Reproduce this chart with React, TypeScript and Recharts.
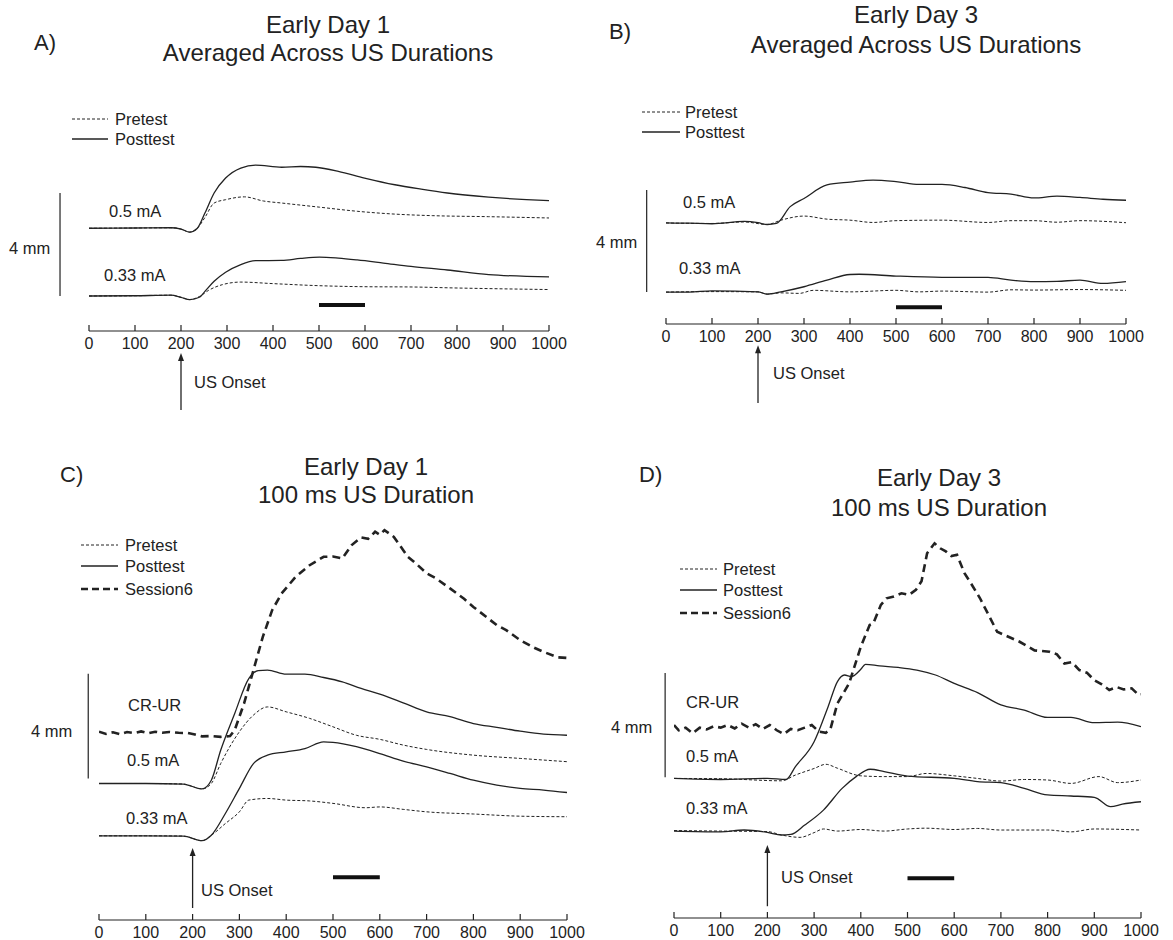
import { LineChart, Line, XAxis, YAxis, ReferenceLine } from "recharts";

type Pt = [number, number];

// all traces in mm, 0 = 0.33 mA baseline, x in ms
const TICKS = [0, 100, 200, 300, 400, 500, 600, 700, 800, 900, 1000];

// A) Early Day 1, averaged across US durations
const aPre05: Pt[] = [[0,2.63],[100,2.64],[178,2.65],[200,2.6],[219,2.48],[235,2.62],[252,3.05],[272,3.61],[297,3.74],[338,3.85],[379,3.69],[419,3.61],[501,3.45],[583,3.29],[665,3.18],[746,3.12],[869,3.08],[1000,3.03]];
const aPost05: Pt[] = [[0,2.63],[100,2.64],[178,2.65],[200,2.6],[219,2.48],[235,2.62],[252,3.22],[272,4.0],[297,4.58],[330,4.97],[362,5.08],[419,5.0],[460,5.03],[493,5.0],[542,4.84],[599,4.58],[665,4.32],[722,4.15],[779,4.0],[869,3.84],[951,3.74],[1000,3.7]];
const aPre033: Pt[] = [[0,0],[100,0.01],[178,0.03],[200,-0.05],[219,-0.14],[240,-0.02],[260,0.22],[290,0.44],[330,0.54],[400,0.48],[500,0.4],[600,0.36],[700,0.35],[800,0.31],[1000,0.25]];
const aPost033: Pt[] = [[0,0],[100,0.01],[178,0.03],[200,-0.05],[219,-0.14],[240,-0.05],[252,0.18],[272,0.57],[297,0.92],[330,1.22],[362,1.37],[419,1.38],[460,1.46],[501,1.51],[542,1.47],[583,1.4],[640,1.28],[700,1.15],[779,1.01],[869,0.83],[951,0.76],[1000,0.74]];

// B) Early Day 3, averaged across US durations
const bPre05: Pt[] = [[0,2.71],[100,2.69],[170,2.75],[220,2.65],[250,2.82],[300,2.98],[350,2.86],[400,2.82],[450,2.73],[500,2.8],[600,2.82],[700,2.73],[750,2.8],[800,2.8],[850,2.74],[900,2.8],[1000,2.72]];
const bPost05: Pt[] = [[0,2.71],[50,2.7],[100,2.68],[170,2.77],[200,2.72],[220,2.65],[240,2.69],[270,3.35],[300,3.67],[350,4.2],[400,4.31],[450,4.39],[500,4.33],[550,4.22],[600,4.22],[650,4.1],[700,3.9],[750,3.84],[800,3.69],[850,3.76],[900,3.71],[950,3.64],[1000,3.6]];
const bPre033: Pt[] = [[0,0],[100,0.02],[200,0.01],[220,-0.08],[250,-0.03],[290,-0.05],[320,0.07],[400,0.01],[500,0.07],[550,0.01],[600,0.04],[700,0],[750,0.09],[800,0.08],[900,0.1],[1000,0.07]];
const bPost033: Pt[] = [[0,0],[50,0],[100,0.05],[200,0.01],[220,-0.08],[250,0.01],[300,0.21],[350,0.47],[400,0.69],[420,0.7],[500,0.63],[600,0.58],[700,0.58],[750,0.47],[800,0.41],[850,0.42],[900,0.47],[950,0.34],[1000,0.41]];

// C) Early Day 1, 100 ms US duration
const cPre05: Pt[] = [[0,1.92],[100,1.92],[180,1.9],[220,1.72],[240,1.92],[260,2.65],[300,3.82],[330,4.43],[360,4.73],[400,4.55],[450,4.31],[500,4.0],[550,3.69],[600,3.54],[650,3.33],[700,3.17],[800,2.96],[900,2.84],[1000,2.72]];
const cPost05: Pt[] = [[0,1.92],[100,1.92],[180,1.9],[220,1.72],[240,2.04],[260,3.14],[290,4.49],[320,5.77],[340,6.06],[360,6.08],[400,5.93],[440,5.93],[480,5.81],[520,5.65],[560,5.41],[600,5.2],[650,4.88],[700,4.55],[750,4.37],[800,4.12],[850,3.98],[900,3.84],[950,3.73],[1000,3.69]];
const cPre033: Pt[] = [[0,0],[100,0],[180,-0.01],[220,-0.18],[240,0.02],[270,0.45],[300,0.88],[320,1.31],[360,1.37],[400,1.31],[450,1.28],[500,1.19],[570,1.03],[600,1.06],[650,0.97],[700,0.88],[800,0.8],[900,0.72],[1000,0.7]];
const cPost033: Pt[] = [[0,0],[100,0],[180,-0.01],[220,-0.18],[240,0.02],[270,0.82],[300,1.74],[330,2.65],[360,2.96],[400,3.08],[440,3.2],[480,3.45],[500,3.43],[550,3.27],[600,3.02],[650,2.74],[700,2.53],[750,2.29],[800,2.04],[850,1.86],[900,1.74],[950,1.68],[1000,1.59]];
const cSession6: Pt[] = [[0,3.82],[15,3.74],[30,3.8],[45,3.73],[60,3.81],[75,3.77],[90,3.83],[105,3.76],[120,3.82],[135,3.78],[150,3.81],[170,3.78],[190,3.77],[205,3.72],[220,3.65],[240,3.66],[260,3.63],[280,3.66],[290,3.88],[310,4.86],[330,6.08],[350,7.3],[370,8.28],[390,8.89],[420,9.5],[450,9.93],[480,10.24],[500,10.25],[520,10.18],[540,10.67],[560,10.95],[575,10.9],[590,11.16],[600,11.05],[610,11.22],[630,10.97],[660,10.24],[680,9.95],[700,9.63],[720,9.45],[750,9.08],[780,8.7],[800,8.4],[830,8.0],[850,7.73],[870,7.55],[900,7.18],[930,6.9],[950,6.75],[980,6.55],[1000,6.53]];

// D) Early Day 3, 100 ms US duration
const dPre05: Pt[] = [[0,2.01],[100,2.0],[230,1.92],[260,2.14],[300,2.39],[325,2.55],[350,2.4],[400,2.11],[450,2.08],[500,2.08],[540,2.2],[600,2.11],[650,2.01],[700,1.91],[750,1.97],[800,1.95],[850,1.82],[910,2.08],[950,1.85],[1000,1.95]];
const dPost05: Pt[] = [[0,2.01],[100,1.97],[200,2.01],[240,1.97],[260,2.46],[300,3.41],[330,4.75],[350,5.71],[365,5.96],[380,5.9],[400,6.18],[410,6.37],[440,6.31],[480,6.25],[520,6.15],[560,5.96],[600,5.64],[650,5.29],[700,4.82],[750,4.62],[800,4.34],[850,4.34],[900,4.14],[950,4.16],[1000,3.99]];
const dPre033: Pt[] = [[0,0.02],[100,0],[200,-0.02],[230,-0.15],[270,-0.24],[300,-0.06],[320,0.08],[350,0],[400,0.06],[450,0],[500,0.08],[540,0.11],[600,0.06],[650,0.1],[700,0.04],[800,0.04],[850,-0.03],[900,0.08],[1000,0.04]];
const dPost033: Pt[] = [[0,0],[100,-0.03],[150,0.04],[200,-0.05],[230,-0.15],[250,-0.13],[280,0.23],[320,0.8],[360,1.63],[390,2.08],[420,2.36],[450,2.27],[500,2.1],[600,2.01],[650,1.89],[700,1.85],[750,1.63],[800,1.38],[850,1.34],[900,1.29],[935,0.93],[960,1.03],[1000,1.12]];
const dSession6: Pt[] = [[0,4.05],[10,3.85],[25,3.95],[40,3.73],[55,3.95],[70,3.88],[85,4.0],[100,3.95],[115,4.05],[130,3.92],[145,4.1],[160,3.95],[175,4.08],[190,3.9],[205,4.05],[220,3.85],[235,3.7],[250,3.9],[265,3.85],[280,3.95],[295,4.05],[310,3.8],[325,3.75],[335,3.9],[350,4.88],[375,5.64],[400,7.04],[419,7.87],[427,7.94],[443,8.64],[455,8.89],[471,8.96],[487,9.08],[503,9.02],[518,9.21],[530,9.54],[542,10.61],[558,10.99],[570,10.8],[582,10.68],[594,10.5],[606,10.55],[622,9.85],[638,9.4],[655,8.9],[670,8.38],[692,7.61],[716,7.42],[740,7.23],[772,6.9],[804,6.85],[820,6.75],[836,6.4],[852,6.45],[868,6.15],[884,6.05],[900,5.76],[916,5.6],[932,5.39],[948,5.5],[963,5.41],[980,5.45],[995,5.2],[1000,5.22]];

const FONT = '"Liberation Sans", Arial, Helvetica, sans-serif';
const INK = "#222";

type Kind = "pre" | "post" | "s6";
const STYLE: Record<Kind, { w: number; dash?: string; type: "monotone" | "linear" }> = {
  pre: { w: 1, dash: "3 2", type: "monotone" },
  post: { w: 1.3, type: "monotone" },
  s6: { w: 2.6, dash: "8 5", type: "linear" },
};

const rows = (pts: Pt[]) => pts.map(([t, v]) => ({ t, v }));

const Tick = (p: any) => (
  <g>
    <line x1={p.x} x2={p.x} y1={p.y} y2={p.y - 6} stroke={INK} strokeWidth={1.2} />
    <text x={p.x} y={p.y + 18} textAnchor="middle" fontSize={16} fill={INK} fontFamily={FONT}>
      {p.payload.value}
    </text>
  </g>
);

const Arrow = (p: any) => {
  const top = Math.min(p.y1, p.y2);
  const bot = Math.max(p.y1, p.y2);
  const x = p.x1;
  return (
    <g>
      <line x1={x} x2={x} y1={bot} y2={top + 6} stroke={INK} strokeWidth={1.3} />
      <path d={`M${x},${top} L${x - 3},${top + 8} L${x + 3},${top + 8} Z`} fill={INK} />
    </g>
  );
};

interface PanelProps {
  box: [number, number, number, number];
  x0: number;
  x1: number;
  plotTop: number;
  axisY: number;
  domain: [number, number];
  lines: { pts: Pt[]; kind: Kind }[];
  scale: [number, number, number]; // x, from, to
  barY: number;
  arrow: [number, number];
}

function Panel({ box, x0, x1, plotTop, axisY, domain, lines, scale, barY, arrow }: PanelProps) {
  const [L, T, W, H] = box;
  return (
    <div style={{ position: "absolute", left: L, top: T }}>
      <LineChart
        width={W}
        height={H}
        margin={{ top: plotTop - T, left: x0 - L, right: L + W - x1, bottom: 0 }}
      >
        <XAxis
          type="number"
          dataKey="t"
          domain={[0, 1000]}
          ticks={TICKS}
          interval={0}
          height={T + H - axisY}
          axisLine={{ stroke: INK, strokeWidth: 1.2 }}
          tickLine={false}
          tickSize={0}
          tickMargin={0}
          tick={<Tick />}
          allowDataOverflow
        />
        <YAxis hide type="number" domain={domain} allowDataOverflow />
        {lines.map((l, i) => (
          <Line
            key={i}
            data={rows(l.pts)}
            dataKey="v"
            type={STYLE[l.kind].type}
            stroke={INK}
            strokeWidth={STYLE[l.kind].w}
            strokeDasharray={STYLE[l.kind].dash}
            dot={false}
            activeDot={false}
            isAnimationActive={false}
          />
        ))}
        <ReferenceLine
          segment={[{ x: 500, y: barY }, { x: 600, y: barY }]}
          stroke="#111"
          strokeWidth={4}
          ifOverflow="visible"
        />
        <ReferenceLine
          segment={[{ x: scale[0], y: scale[1] }, { x: scale[0], y: scale[2] }]}
          stroke={INK}
          strokeWidth={1.2}
          ifOverflow="visible"
        />
        <ReferenceLine
          segment={[{ x: 200, y: arrow[0] }, { x: 200, y: arrow[1] }]}
          shape={Arrow}
          ifOverflow="visible"
        />
      </LineChart>
    </div>
  );
}

const Txt = ({ x, y, s = 16.5, center = false, children }: any) => (
  <div
    style={{
      position: "absolute",
      left: x,
      top: y,
      transform: center ? "translate(-50%, -50%)" : "translateY(-50%)",
      fontSize: s,
      fontFamily: FONT,
      color: INK,
      whiteSpace: "nowrap",
      lineHeight: 1,
    }}
  >
    {children}
  </div>
);

const Key = ({ x1, x2, tx, y, kind, label }: any) => (
  <>
    <svg style={{ position: "absolute", left: x1, top: y - 3 }} width={x2 - x1} height={6}>
      <line x1={0} x2={x2 - x1} y1={3} y2={3} stroke={INK} strokeWidth={STYLE[kind as Kind].w} strokeDasharray={kind === "s6" ? "7 4" : STYLE[kind as Kind].dash} />
    </svg>
    <Txt x={tx} y={y}>{label}</Txt>
  </>
);

export default function App() {
  return (
    <div style={{ position: "absolute", left: 0, top: 0, width: 1173, height: 940, background: "#fff" }}>
      {/* A */}
      <Panel
        box={[0, 0, 590, 430]}
        x0={89}
        x1={549}
        plotTop={150}
        axisY={331}
        domain={[-1.36, 5.67]}
        lines={[
          { pts: aPre05, kind: "pre" },
          { pts: aPost05, kind: "post" },
          { pts: aPre033, kind: "pre" },
          { pts: aPost033, kind: "post" },
        ]}
        scale={[-63, 0, 4]}
        barY={-0.35}
        arrow={[-4.43, -2.21]}
      />
      <Txt x={34} y={43} s={22}>A)</Txt>
      <Txt x={328} y={25} s={24} center>Early Day 1</Txt>
      <Txt x={328} y={53} s={24} center>Averaged Across US Durations</Txt>
      <Key x1={72} x2={108} tx={115} y={119} kind="pre" label="Pretest" />
      <Key x1={72} x2={108} tx={115} y={139} kind="post" label="Posttest" />
      <Txt x={109} y={211}>0.5 mA</Txt>
      <Txt x={104} y={275}>0.33 mA</Txt>
      <Txt x={9} y={248}>4 mm</Txt>
      <Txt x={194} y={382}>US Onset</Txt>

      {/* B */}
      <Panel
        box={[590, 0, 583, 430]}
        x0={666}
        x1={1126}
        plotTop={150}
        axisY={324}
        domain={[-1.25, 5.57]}
        lines={[
          { pts: bPre05, kind: "pre" },
          { pts: bPost05, kind: "post" },
          { pts: bPre033, kind: "pre" },
          { pts: bPost033, kind: "post" },
        ]}
        scale={[-42, 0, 4]}
        barY={-0.59}
        arrow={[-4.35, -2.08]}
      />
      <Txt x={609} y={32} s={22}>B)</Txt>
      <Txt x={916} y={15} s={24} center>Early Day 3</Txt>
      <Txt x={916} y={45} s={24} center>Averaged Across US Durations</Txt>
      <Key x1={642} x2={680} tx={685} y={112} kind="pre" label="Pretest" />
      <Key x1={642} x2={680} tx={685} y={132} kind="post" label="Posttest" />
      <Txt x={683} y={202}>0.5 mA</Txt>
      <Txt x={679} y={268}>0.33 mA</Txt>
      <Txt x={596} y={242}>4 mm</Txt>
      <Txt x={773} y={373}>US Onset</Txt>

      {/* C */}
      <Panel
        box={[0, 430, 590, 510]}
        x0={99}
        x1={567}
        plotTop={520}
        axisY={920}
        domain={[-3.09, 11.59]}
        lines={[
          { pts: cPre05, kind: "pre" },
          { pts: cPost05, kind: "post" },
          { pts: cPre033, kind: "pre" },
          { pts: cPost033, kind: "post" },
          { pts: cSession6, kind: "s6" },
        ]}
        scale={[-23, 2.1, 5.95]}
        barY={-1.52}
        arrow={[-2.65, -0.45]}
      />
      <Txt x={60} y={475} s={22}>C)</Txt>
      <Txt x={366} y={467} s={24} center>Early Day 1</Txt>
      <Txt x={366} y={495} s={24} center>100 ms US Duration</Txt>
      <Key x1={81} x2={118} tx={125} y={545} kind="pre" label="Pretest" />
      <Key x1={81} x2={118} tx={125} y={566} kind="post" label="Posttest" />
      <Key x1={81} x2={118} tx={125} y={589} kind="s6" label="Session6" />
      <Txt x={128} y={705}>CR-UR</Txt>
      <Txt x={127} y={760}>0.5 mA</Txt>
      <Txt x={126} y={818}>0.33 mA</Txt>
      <Txt x={31} y={731}>4 mm</Txt>
      <Txt x={201} y={890}>US Onset</Txt>

      {/* D */}
      <Panel
        box={[590, 430, 583, 510]}
        x0={674}
        x1={1141}
        plotTop={520}
        axisY={918}
        domain={[-3.32, 11.88]}
        lines={[
          { pts: dPre05, kind: "pre" },
          { pts: dPost05, kind: "post" },
          { pts: dPre033, kind: "pre" },
          { pts: dPost033, kind: "post" },
          { pts: dSession6, kind: "s6" },
        ]}
        scale={[-19, 2.06, 6.04]}
        barY={-1.8}
        arrow={[-2.87, -0.53]}
      />
      <Txt x={639} y={475} s={22}>D)</Txt>
      <Txt x={939} y={478} s={24} center>Early Day 3</Txt>
      <Txt x={939} y={508} s={24} center>100 ms US Duration</Txt>
      <Key x1={680} x2={717} tx={723} y={569} kind="pre" label="Pretest" />
      <Key x1={680} x2={717} tx={723} y={590} kind="post" label="Posttest" />
      <Key x1={680} x2={717} tx={723} y={613} kind="s6" label="Session6" />
      <Txt x={686} y={702}>CR-UR</Txt>
      <Txt x={686} y={756}>0.5 mA</Txt>
      <Txt x={686} y={808}>0.33 mA</Txt>
      <Txt x={611} y={727}>4 mm</Txt>
      <Txt x={781} y={877}>US Onset</Txt>
    </div>
  );
}
